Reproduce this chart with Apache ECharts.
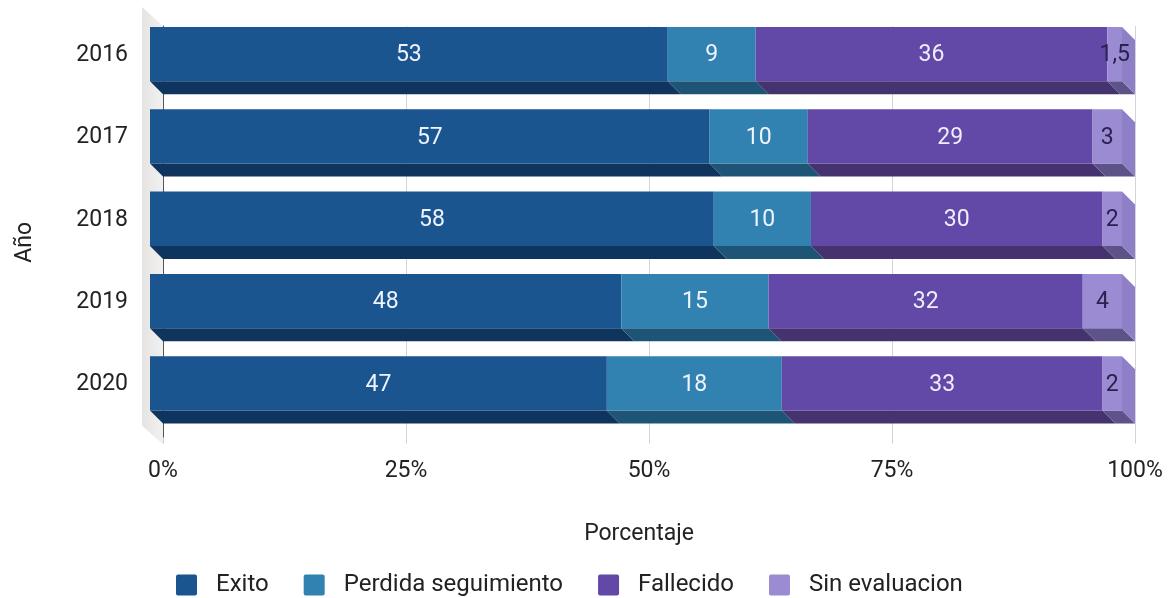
<!DOCTYPE html>
<html>
<head>
<meta charset="utf-8">
<script src="https://cdn.jsdelivr.net/npm/echarts@6/dist/echarts.min.js"></script>
<style>
  html, body { margin: 0; padding: 0; background: #ffffff; }
  #chart { width: 1171px; height: 598px; }
</style>
</head>
<body>
<div id="chart"></div>
<script>
// Outcomes per year (raw shares as labelled on each bar)
const years = ['2016', '2017', '2018', '2019', '2020'];
const exito = [53, 57, 58, 48, 47];
const perdida = [9, 10, 10, 15, 18];
const fallecido = [36, 29, 30, 32, 33];
const sinEvaluacion = [1.5, 3, 2, 4, 2];
const xTicks = [0, 25, 50, 75, 100];

const FONT = 23;

const groups = [
  { name: 'Exito', values: exito, front: '#1a5590', bottom: '#0f355e', side: '#174a7e', label: '#eef3fd' },
  { name: 'Perdida seguimiento', values: perdida, front: '#3182b0', bottom: '#1e5577', side: '#2a6f98', label: '#eef3fd' },
  { name: 'Fallecido', values: fallecido, front: '#6249a8', bottom: '#45336f', side: '#553f92', label: '#efedfc' },
  { name: 'Sin evaluacion', values: sinEvaluacion, front: '#9b8bd2', bottom: '#5e5389', side: '#8e7fc6', label: '#2a2152' }
];

// Build 100%-stacked segments: [start, end, raw value, year index]
const totals = years.map((_, i) => groups.reduce((s, g) => s + g.values[i], 0));
const segmentData = groups.map((g, gi) => years.map((_, i) => {
  let start = 0;
  for (let k = 0; k < gi; k++) start += groups[k].values[i];
  const end = start + g.values[i];
  return [start / totals[i] * 100, end / totals[i] * 100, g.values[i], i];
}));

const DEPTH = 13;

function fmt(v) {
  return String(v).replace('.', ',');
}

function makeRender(g, isLast) {
  return function (params, api) {
    const s = api.coord([api.value(0), api.value(3)]);
    const e = api.coord([api.value(1), api.value(3)]);
    const half = api.size([0, 1])[1] * 0.33;
    const yc = s[1];
    const bx0 = s[0], bx1 = e[0];
    const d = DEPTH;
    const children = [
      {
        type: 'polygon',
        shape: { points: [[bx0 - d, yc + half - d], [bx1 - d, yc + half - d], [bx1, yc + half], [bx0, yc + half]] },
        style: { fill: g.bottom }
      },
      {
        type: 'rect',
        shape: { x: bx0 - d, y: yc - half - d, width: bx1 - bx0, height: 2 * half },
        style: { fill: g.front }
      }
    ];
    if (isLast) {
      children.push({
        type: 'polygon',
        shape: { points: [[bx1 - d, yc - half - d], [bx1, yc - half], [bx1, yc + half], [bx1 - d, yc + half - d]] },
        style: { fill: g.side }
      });
    }
    children.push({
      type: 'text',
      style: {
        x: (bx0 + bx1) / 2 - d,
        y: yc - d + 1.5,
        text: fmt(api.value(2)),
        fill: g.label,
        font: FONT + 'px Roboto',
        align: 'center',
        verticalAlign: 'middle'
      }
    });
    return { type: 'group', children: children };
  };
}

// Light side wall behind the bars
const wallSeries = {
  type: 'custom',
  silent: true,
  data: [[0, 0]],
  z: 1,
  renderItem: function (params, api) {
    const cs = params.coordSys;
    const x0 = cs.x, top = cs.y, bottom = cs.y + cs.height;
    return {
      type: 'polygon',
      shape: { points: [[x0 - 21, top - 19], [x0, top], [x0, bottom + 7], [x0 - 21, bottom - 12]] },
      style: {
        fill: {
          type: 'linear', x: 0, y: 0, x2: 1, y2: 0,
          colorStops: [{ offset: 0, color: '#e6e4e2' }, { offset: 1, color: '#f1f1f1' }]
        }
      }
    };
  }
};

const barSeries = groups.map((g, gi) => ({
  type: 'custom',
  name: g.name,
  z: 3,
  itemStyle: { color: g.front },
  encode: { x: [0, 1], y: 3 },
  data: segmentData[gi],
  renderItem: makeRender(g, gi === groups.length - 1)
}));

const chart = echarts.init(document.getElementById('chart'));
chart.setOption({
  backgroundColor: '#ffffff',
  animation: false,
  textStyle: { fontFamily: 'Roboto' },
  grid: { left: 163, right: 36, top: 26, bottom: 160.5, containLabel: false },
  xAxis: {
    type: 'value',
    min: xTicks[0],
    max: xTicks[xTicks.length - 1],
    interval: xTicks[1] - xTicks[0],
    name: 'Porcentaje',
    nameLocation: 'middle',
    nameGap: 85,
    nameTextStyle: { fontSize: FONT, color: '#222', padding: [0, 20, 0, 0] },
    axisLine: { show: false },
    axisTick: { show: true, length: 6, lineStyle: { color: '#cfcfcf' } },
    splitLine: { show: true, lineStyle: { color: '#d4d4d4', width: 1 } },
    axisLabel: { formatter: '{value}%', fontSize: FONT, color: '#222', margin: 22 }
  },
  yAxis: {
    type: 'category',
    data: years,
    inverse: true,
    axisLine: { show: true, lineStyle: { color: '#555', width: 1 } },
    axisTick: { show: false },
    axisLabel: { fontSize: FONT, color: '#222', margin: 35, verticalAlign: 'bottom', lineHeight: 24 }
  },
  legend: {
    top: 568,
    left: 171,
    itemWidth: 21,
    itemHeight: 21,
    itemGap: 35,
    icon: 'path://M2,0 L19,0 Q21,0 21,2 L21,19 Q21,21 19,21 L2,21 Q0,21 0,19 L0,2 Q0,0 2,0 Z',
    textStyle: { fontSize: 24, color: '#222', padding: [0, 0, 0, 14] },
    data: groups.map(g => g.name)
  },
  graphic: [{
    type: 'text',
    left: 14,
    top: 222,
    rotation: Math.PI / 2,
    style: { text: 'Año', font: FONT + 'px Roboto', fill: '#222' }
  }],
  series: [wallSeries].concat(barSeries)
});
</script>
</body>
</html>
